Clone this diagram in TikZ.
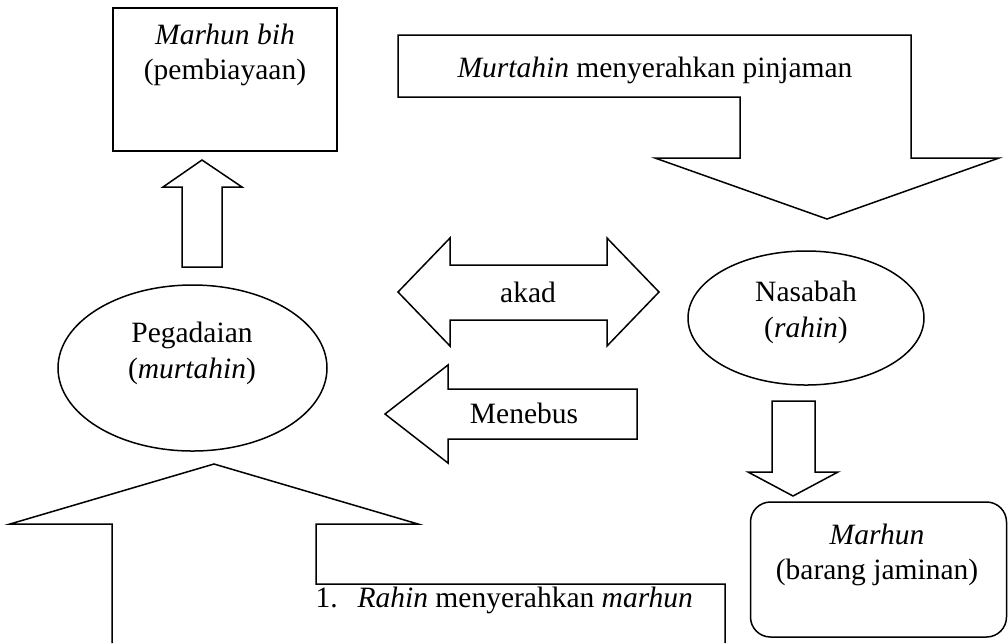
\documentclass[tikz,border=0pt]{standalone}
\usepackage{fontspec}
\setmainfont{Liberation Serif}
\usetikzlibrary{shapes.geometric}

\tikzset{
  blok/.style={draw, line width=0.6pt, line join=miter},
  oval/.style={draw, ellipse, line width=0.6pt, inner sep=0pt},
  kotak/.style={draw, rectangle, line width=0.6pt, inner sep=0pt},
  lbl/.style={align=center, inner sep=0pt, font=\fontsize{11.8}{14.2}\selectfont},
}

\begin{document}
\begin{tikzpicture}[x=0.4pt, y=-0.4pt]
    \useasboundingbox (0,0) rectangle (1008,643);

    % Draw the boxes and the two ellipses
    \node[kotak, minimum width=89.6pt, minimum height=57.2pt] (bih) at (225,79.5) {};  % Marhun bih box
    \node[oval, minimum width=107.6pt, minimum height=66.4pt] (pegadaian) at (192.5,368) {};  % Pegadaian
    \node[oval, minimum width=94.4pt, minimum height=53.6pt] (nasabah) at (806,318) {};  % Nasabah
    \node[kotak, rounded corners=8pt, minimum width=102.4pt, minimum height=54pt] (marhun) at (878.5,569.5) {};  % Marhun box

    % The texts
    \node[lbl] (bihtxt) at (225,55) {\textit{Marhun bih}\\(pembiayaan)};
    \node[lbl] (pegtxt) at (192,353.5) {Pegadaian\\(\textit{murtahin})};
    \node[lbl] (nastxt) at (806,312.5) {Nasabah\\(\textit{rahin})};
    \node[lbl] (marhuntxt) at (877,555) {\textit{Marhun}\\(barang jaminan)};
    \node[lbl] (pinjaman) at (655,70) {\textit{Murtahin} menyerahkan pinjaman};
    \node[lbl] (akad) at (528,292) {akad};
    \node[lbl] (menebus) at (524,413) {Menebus};
    \node[lbl, anchor=west] (serah) at (315,600) {1.\hspace{8pt}\textit{Rahin} menyerahkan \textit{marhun}};

    % Arrow from Pegadaian up to Marhun bih
    \draw[blok] (182,267) -- (182,187) -- (163,187) -- (202,160) -- (242,187) -- (222,187) -- (222,267) -- cycle;
    % Bent arrow down to Nasabah
    \draw[blok] (398,35) -- (911,35) -- (911,158) -- (999,158) -- (827,219) -- (655,158) -- (740,158) -- (740,97) -- (398,97) -- cycle;
    % Double arrow akad
    \draw[blok] (398,292) -- (450,238) -- (450,265) -- (607,265) -- (607,238) -- (659,292) -- (607,346) -- (607,320) -- (450,320) -- (450,346) -- cycle;
    % Arrow Menebus to the left
    \draw[blok] (385,414) -- (448,365) -- (448,389) -- (637,389) -- (637,439) -- (448,439) -- (448,463) -- cycle;
    % Arrow from Nasabah down to Marhun
    \draw[blok] (772,401) -- (815,401) -- (815,472) -- (838,472) -- (793,496) -- (748,472) -- (772,472) -- cycle;
    % Big bent arrow up to Pegadaian (cut at the bottom)
    \draw[blok] (112,643) -- (112,524) -- (10,524) -- (214,464) -- (418,524) -- (316,524) -- (316,584) -- (725,584) -- (725,643);
\end{tikzpicture}
\end{document}
